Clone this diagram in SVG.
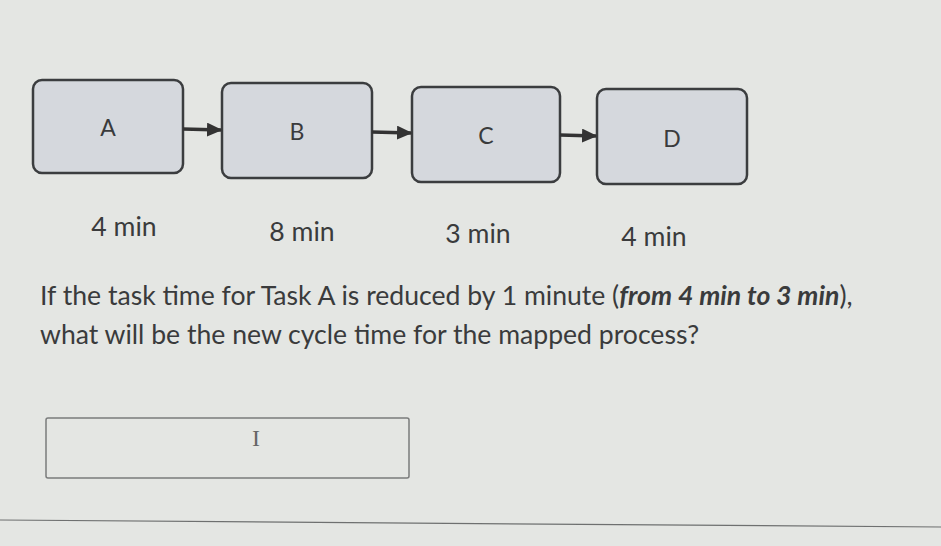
<svg xmlns="http://www.w3.org/2000/svg" width="941" height="546" viewBox="0 0 941 546">
<defs>
<style>
.node rect{fill:#d5d8dd;stroke:#3b3d3f;stroke-width:2.5}
.lbl{font-family:Lato,"Open Sans","Liberation Sans",sans-serif;font-size:23px;fill:#3a3b3c;text-anchor:middle}
.t{font-family:Lato,"Open Sans","Liberation Sans",sans-serif;font-size:26.6px;fill:#3a3b3c}
.conn path{stroke:#333;stroke-width:3.5;fill:none}
</style>
<marker id="ah" markerWidth="4.4" markerHeight="4" refX="4" refY="2" orient="auto" markerUnits="strokeWidth">
<path d="M0,0 L4.4,2 L0,4 Z" fill="#333"/>
</marker>
</defs>
<rect width="941" height="546" fill="#e4e6e3"/>
<g id="A" class="node"><rect x="33" y="80" width="150" height="93" rx="9"/><text class="lbl" x="108" y="136">A</text></g>
<g id="B" class="node"><rect x="222" y="83" width="150" height="95" rx="9"/><text class="lbl" x="297" y="140">B</text></g>
<g id="C" class="node"><rect x="412" y="87" width="148" height="95" rx="9"/><text class="lbl" x="486" y="144">C</text></g>
<g id="D" class="node"><rect x="597" y="89" width="150" height="95" rx="9"/><text class="lbl" x="672" y="147">D</text></g>
<g class="conn">
<path d="M183,129 L221,130" marker-end="url(#ah)"/>
<path d="M372,132 L411,133" marker-end="url(#ah)"/>
<path d="M560,135 L596,136" marker-end="url(#ah)"/>
</g>
<text class="t" x="124" y="236" text-anchor="middle">4 min</text>
<text class="t" x="302" y="241" text-anchor="middle">8 min</text>
<text class="t" x="478" y="243" text-anchor="middle">3 min</text>
<text class="t" x="654" y="246" text-anchor="middle">4 min</text>
<text class="t" x="40" y="305">If the task time for Task A is reduced by 1 minute (<tspan font-weight="bold" font-style="italic">from 4 min to 3 min</tspan>),</text>
<text class="t" x="40" y="344">what will be the new cycle time for the mapped process?</text>
<rect x="46" y="418" width="363" height="60" rx="2" fill="#e4e6e3" stroke="#7a7c7c" stroke-width="1.5"/>
<text x="256" y="446" font-family="Liberation Serif,serif" font-size="24" fill="#666" text-anchor="middle">I</text>
<path d="M0,520 L941,527" stroke="#6e7070" stroke-width="1.2"/>
</svg>
